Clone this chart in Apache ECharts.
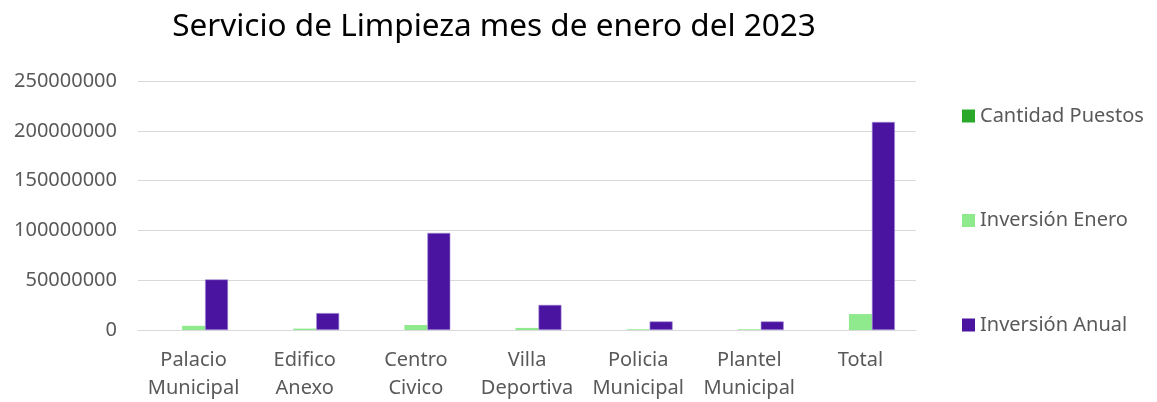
<!DOCTYPE html>
<html>
<head>
<meta charset="utf-8">
<script src="https://cdn.jsdelivr.net/npm/echarts@6/dist/echarts.min.js"></script>
<style>
    html, body { margin: 0; padding: 0; background: #fff; }
    #chart { width: 1157px; height: 402px; }
</style>
</head>
<body>
<div id="chart"></div>
<script>
// categorias del eje x
var categorias = ['Palacio\nMunicipal', 'Edifico\nAnexo', 'Centro\nCivico', 'Villa\nDeportiva', 'Policia\nMunicipal', 'Plantel\nMunicipal', 'Total'];
// valores
var cantidadPuestos = [20, 6, 35, 10, 3, 3, 77];
var inversionEnero = [4200000, 1400000, 5000000, 2100000, 700000, 700000, 16000000];
var inversionAnual = [50800000, 17000000, 97500000, 25200000, 8600000, 8600000, 208900000];

var myChart = echarts.init(document.getElementById('chart'));
var fuente = 'Noto Sans';

var option = {
    animation: false,
    title: {
        text: 'Servicio de Limpieza mes de enero del 2023',
        left: 489,
        top: 6,
        textAlign: 'center',
        textStyle: {
            fontFamily: fuente,
            fontSize: 31.5,
            fontWeight: 'normal',
            color: '#000'
        }
    },
    legend: {
        orient: 'vertical',
        left: 957,
        top: 101,
        itemGap: 84.5,
        itemWidth: 13,
        itemHeight: 13,
        icon: 'rect',
        itemStyle: { borderWidth: 0 },
        textStyle: {
            fontFamily: fuente,
            fontSize: 20,
            color: '#595959'
        },
        data: ['Cantidad Puestos', 'Inversión Enero', 'Inversión Anual']
    },
    grid: {
        left: 138,
        right: 241,
        top: 81,
        bottom: 70
    },
    xAxis: {
        type: 'category',
        data: categorias,
        axisLine: { lineStyle: { color: '#d9d9d9' } },
        axisTick: { show: false },
        axisLabel: {
            interval: 0,
            fontFamily: fuente,
            fontSize: 20,
            color: '#595959',
            lineHeight: 28,
            margin: 16
        }
    },
    yAxis: {
        type: 'value',
        min: 0,
        max: 250000000,
        interval: 50000000,
        axisLine: { show: false },
        axisTick: { show: false },
        splitLine: { lineStyle: { color: '#d9d9d9' } },
        axisLabel: {
            fontFamily: fuente,
            fontSize: 20,
            color: '#595959',
            margin: 21,
            formatter: function (v) { return String(v); }
        }
    },
    series: [
        {
            name: 'Cantidad Puestos',
            type: 'bar',
            data: cantidadPuestos,
            barGap: '0%',
            barCategoryGap: '38%',
            itemStyle: { color: '#2aa82a' }
        },
        {
            name: 'Inversión Enero',
            type: 'bar',
            data: inversionEnero,
            itemStyle: { color: '#8eea8c' }
        },
        {
            name: 'Inversión Anual',
            type: 'bar',
            data: inversionAnual,
            itemStyle: { color: '#4a14a0', borderColor: '#a58fd6', borderWidth: 0.6 }
        }
    ]
};
myChart.setOption(option);
</script>
</body>
</html>
